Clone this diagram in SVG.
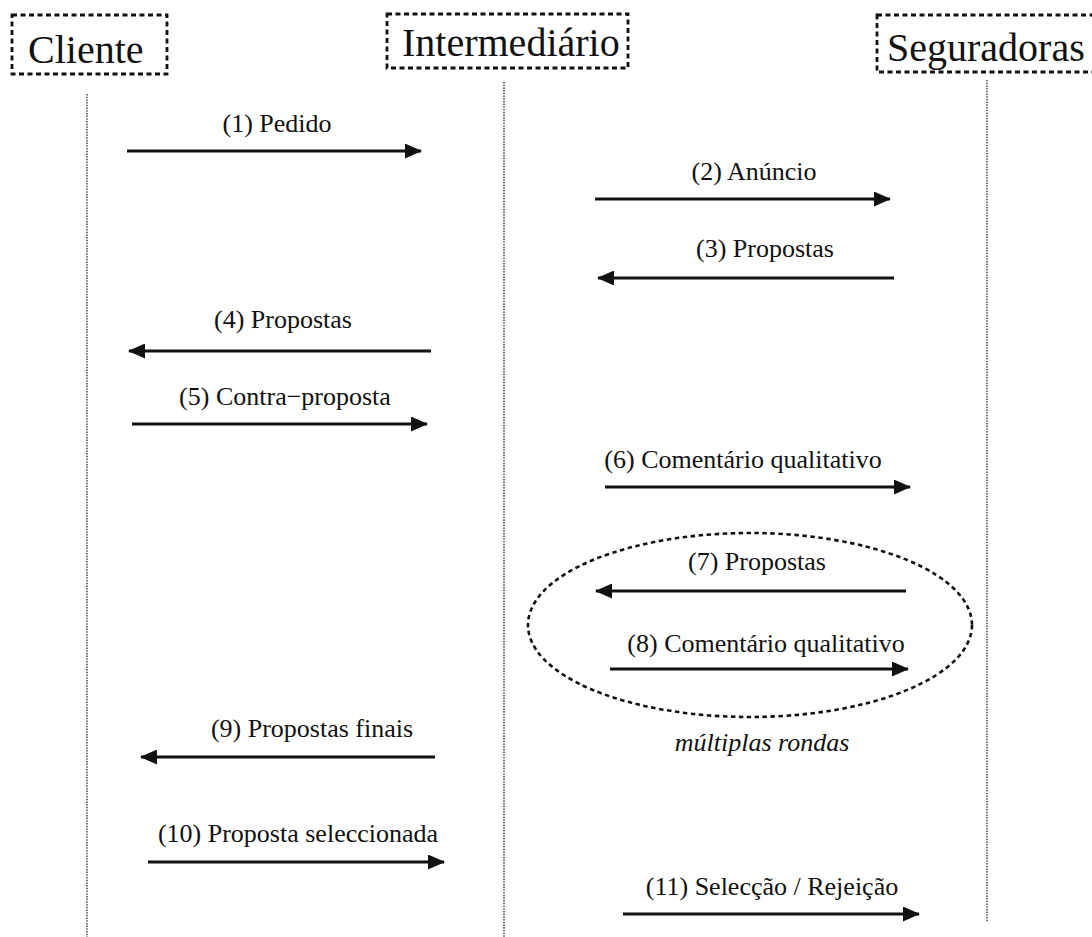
<svg xmlns="http://www.w3.org/2000/svg" width="1092" height="937" viewBox="0 0 1092 937">
<style>
.box{fill:none;stroke:#111;stroke-width:2.8;stroke-dasharray:5 3.5}
.title{font-family:"Liberation Serif","Times New Roman",serif;font-size:40px;fill:#111}
.life{stroke:#666;stroke-width:1.8;stroke-dasharray:1.5 1.2;fill:none}
.msg{stroke:#111;stroke-width:3;fill:none;marker-end:url(#ah)}
.lbl{font-family:"Liberation Serif","Times New Roman",serif;font-size:26px;fill:#111;text-anchor:middle}
.ell{fill:none;stroke:#111;stroke-width:2.6;stroke-dasharray:4.5 3.5}
</style>
<defs>
<marker id="ah" viewBox="0 0 17 15" refX="16" refY="7.5" markerUnits="userSpaceOnUse" markerWidth="17" markerHeight="15" orient="auto" preserveAspectRatio="none">
<path d="M0,0 L17,7.5 L0,15 z" fill="#111"/>
</marker>
</defs>
<rect width="1092" height="937" fill="#fff"/>
<g id="cliente">
<rect class="box" x="12" y="15" width="155" height="59"/>
<text class="title" x="28" y="63">Cliente</text>
<line class="life" x1="87" y1="94" x2="87" y2="937"/>
</g>
<g id="intermediario">
<rect class="box" x="387" y="14" width="241" height="54"/>
<text class="title" x="402" y="56">Intermediário</text>
<line class="life" x1="504" y1="82" x2="504" y2="937"/>
</g>
<g id="seguradoras">
<rect class="box" x="877" y="15" width="230" height="57"/>
<text class="title" x="887" y="61">Seguradoras</text>
<line class="life" x1="987" y1="80" x2="987" y2="922"/>
</g>
<g id="rondas">
<ellipse class="ell" cx="750" cy="625" rx="222" ry="92"/>
<text class="lbl" x="762" y="751" font-style="italic">múltiplas rondas</text>
</g>
<g id="connectors">
<line class="msg" x1="127" y1="151" x2="421" y2="151"/>
<text class="lbl" x="277" y="132">(1) Pedido</text>
<line class="msg" x1="595" y1="199" x2="890" y2="199"/>
<text class="lbl" x="754" y="180">(2) Anúncio</text>
<line class="msg" x1="894" y1="278" x2="598" y2="278"/>
<text class="lbl" x="765" y="257">(3) Propostas</text>
<line class="msg" x1="431" y1="351" x2="129" y2="351"/>
<text class="lbl" x="283" y="328">(4) Propostas</text>
<line class="msg" x1="132" y1="424" x2="427" y2="424"/>
<text class="lbl" x="285" y="405">(5) Contra−proposta</text>
<line class="msg" x1="605" y1="487" x2="910" y2="487"/>
<text class="lbl" x="743" y="468">(6) Comentário qualitativo</text>
<line class="msg" x1="906" y1="591" x2="596" y2="591"/>
<text class="lbl" x="757" y="570">(7) Propostas</text>
<line class="msg" x1="610" y1="669" x2="908" y2="669"/>
<text class="lbl" x="766" y="652">(8) Comentário qualitativo</text>
<line class="msg" x1="435" y1="757" x2="141" y2="757"/>
<text class="lbl" x="312" y="737">(9) Propostas finais</text>
<line class="msg" x1="148" y1="862" x2="444" y2="862"/>
<text class="lbl" x="298" y="842">(10) Proposta seleccionada</text>
<line class="msg" x1="623" y1="914" x2="919" y2="914"/>
<text class="lbl" x="772" y="895">(11) Selecção / Rejeição</text>
</g>
</svg>
